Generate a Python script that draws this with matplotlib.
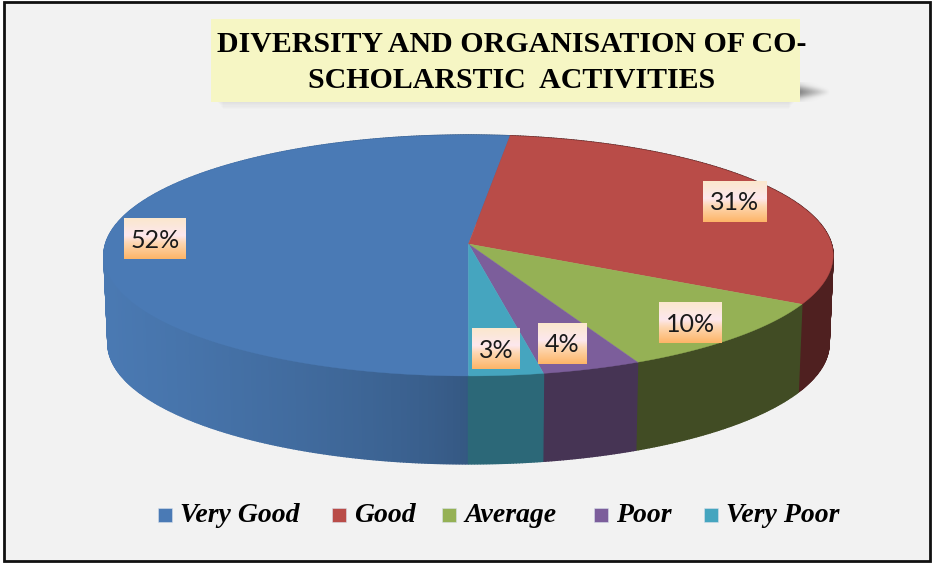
import numpy as np
import matplotlib
matplotlib.use("Agg")
import matplotlib.pyplot as plt
from matplotlib.colors import LinearSegmentedColormap, to_rgb
from matplotlib.patches import Rectangle

title_lines = ["DIVERSITY AND ORGANISATION OF CO-", "SCHOLARSTIC  ACTIVITIES"]
categories = ["Very Good", "Good", "Average", "Poor", "Very Poor"]
values = [52, 31, 10, 4, 3]
top_colors = ["#4a7ab5", "#b94c48", "#95b155", "#7c5e9b", "#45a5bf"]
side_colors = ["#345781", "#4f2020", "#414c24", "#463454", "#2c6878"]
label_boxes = [(124, 218, 62, 41), (703, 181, 64, 41), (659, 302, 63, 41), (538, 323, 49, 41), (472, 328, 48, 41)]
legend_x = [180, 354, 464, 616, 726]

W, H = 932, 563
fig = plt.figure(figsize=(W / 100, H / 100), dpi=100, facecolor="white")
ax = fig.add_axes([0, 0, 1, 1])
ax.set_xlim(0, W)
ax.set_ylim(H, 0)
ax.axis("off")

# frame
ax.add_patch(Rectangle((3.5, 2), 926, 559, fc="#f2f2f2", ec="#111111", lw=2, zorder=0))

# perspective of the pie, the back is shorter than the front
k = 0.095


def top_ring(t):
    d = 1 + k * np.sin(t)
    return 468.5 + 363 * np.cos(t) / d, 244 - 119.4 * np.sin(t) / d


def bottom_ring(t):
    d = 1 + k * np.sin(t)
    return 468.5 + 359 * np.cos(t) / d, 332 - 119.4 * np.sin(t) / d


# slice angles, clockwise from the bottom of the pie
edges = -np.pi / 2 - np.cumsum([0] + values) / 100 * 2 * np.pi

# side walls first, the top covers what is behind
left_shade = np.array(to_rgb("#4a79b2"))
for i in range(len(values)):
    ts = np.linspace(edges[i], edges[i + 1], values[i] * 8 + 2)
    for a, b in zip(ts[:-1], ts[1:]):
        tt = np.array([a, b])
        x1, y1 = top_ring(tt)
        x2, y2 = bottom_ring(tt)
        c = np.array(to_rgb(side_colors[i]))
        if i == 0:
            # only the big slice has a visible gradient
            f = np.clip((468 - x1.mean()) / 360, 0, 1) ** 0.7
            c = c + (left_shade - c) * f
        ax.fill(np.r_[x1, x2[::-1]], np.r_[y1, y2[::-1]], color=c, lw=1.0, zorder=1 + i * 0.01)

for i in range(len(values)):
    ts = np.linspace(edges[i], edges[i + 1], values[i] * 8 + 2)
    x, y = top_ring(ts)
    ax.fill(np.r_[468.5, x], np.r_[244, y], color=top_colors[i], lw=0.3, zorder=2)

# title box with soft shadow
for j in range(6):
    ax.add_patch(Rectangle((218 + j, 98), 576 - j * 2, 5 + j * 1.2, fc="#888888", alpha=0.025, lw=0, zorder=3))
sx, sy = np.meshgrid(np.linspace(0, 1, 40), np.linspace(-1, 1, 24))
shadow = np.zeros(sx.shape + (4,))
shadow[..., :3] = 0.4
shadow[..., 3] = 0.75 * np.clip(1 - sx, 0, 1) * np.exp(-(sy / (1.05 - 0.7 * sx)) ** 2 * 2.5)
ax.imshow(shadow, extent=(800, 830, 102, 82), aspect="auto", interpolation="bilinear", zorder=3)
ax.add_patch(Rectangle((211, 19), 589, 83, fc="#f6f6c4", lw=0, zorder=4))
for line, ty in zip(title_lines, [44, 81]):
    ax.text(512, ty, line, ha="center", va="center", fontsize=21.5, fontweight="bold",
            family="Liberation Serif", color="black", zorder=5)

# data labels
box_cmap = LinearSegmentedColormap.from_list("lab", [(0, "#fbe7cd"), (0.42, "#fde8ee"), (0.62, "#fed6b0"), (1, "#fdb568")])
grad = np.linspace(0, 1, 64).reshape(-1, 1)
for (bx, by, bw, bh), v in zip(label_boxes, values):
    ax.imshow(grad, cmap=box_cmap, extent=(bx, bx + bw, by + bh, by), aspect="auto", zorder=6)
    ax.text(bx + bw / 2, by + bh / 2 + 1.5, str(v) + "%", ha="center", va="center", fontsize=18,
            family="Lato", color="#1a1a1a", zorder=7)
ax.set_xlim(0, W)
ax.set_ylim(H, 0)

# legend
for name, c, lx in zip(categories, top_colors, legend_x):
    ax.add_patch(Rectangle((lx - 22, 508), 14, 14, fc=c, ec="#d8e0ea", lw=0.4, zorder=5))
    ax.text(lx, 522, name, ha="left", va="baseline", fontsize=20, fontweight="bold", fontstyle="italic",
            family="Liberation Serif", color="black", zorder=5)

fig.savefig("out.png", dpi=100)
